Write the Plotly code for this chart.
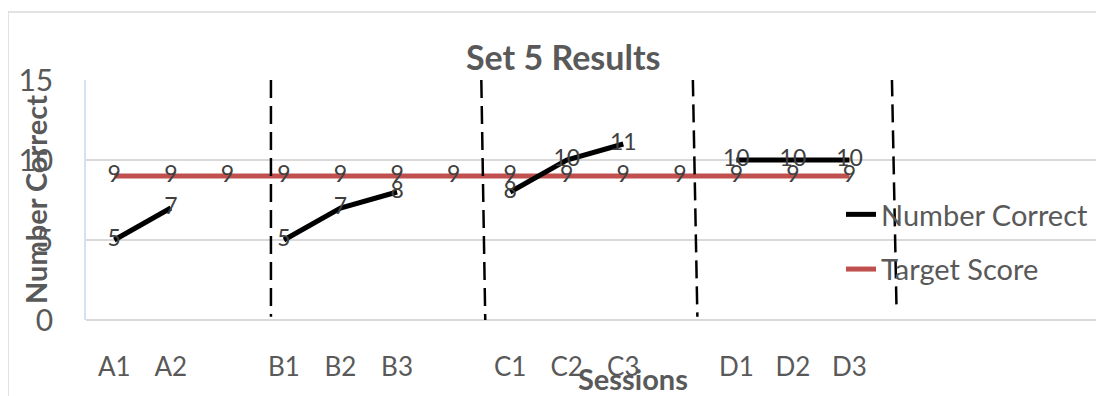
import plotly.graph_objects as go

# ---- data ----
categories = ["A1", "A2", "", "B1", "B2", "B3", "", "C1", "C2", "C3", "", "D1", "D2", "D3", "", "", "", ""]
number_correct = [5, 7, None, 5, 7, 8, None, 8, 10, 11, None, 10, 10, 10]
target_score = [9, 9, 9, 9, 9, 9, 9, 9, 9, 9, 9, 9, 9, 9]
# phase divider positions (category index at top, at bottom) and y extent
divider_top_x = [2.77, 6.49, 10.23, 13.75]
divider_bot_x = [2.77, 6.56, 10.31, 13.83]
divider_top_y = [15.0, 15.0, 15.1, 15.1]
divider_bot_y = [0.2, -0.1, 0.2, 0.95]
y_ticks = [0, 5, 10, 15]

FONT = "Lato"
GREY = "#595959"
LABEL = "#404040"

x_nc = list(range(len(number_correct)))
x_ts = list(range(len(target_score)))

fig = go.Figure()
fig.add_trace(go.Scatter(
    x=x_ts, y=target_score, name="Target Score", legendgroup="t", legendrank=2,
    mode="lines+text", line=dict(color="#C0504D", width=5),
    text=[str(v) for v in target_score], textposition="middle center",
    textfont=dict(family=FONT, size=23, color=LABEL),
))
fig.add_trace(go.Scatter(
    x=x_nc, y=number_correct, name="Number Correct", legendgroup="n", legendrank=1,
    mode="lines+text", line=dict(color="#000000", width=5), connectgaps=False,
    text=["" if v is None else str(v) for v in number_correct], textposition="middle center",
    textfont=dict(family=FONT, size=23, color=LABEL),
))

shapes = []
for x0, x1, y0, y1 in zip(divider_top_x, divider_bot_x, divider_top_y, divider_bot_y):
    shapes.append(dict(type="line", xref="x", yref="y", x0=x0, y0=y0, x1=x1, y1=y1,
                       line=dict(color="black", width=2.5, dash="18px,8px"), layer="above"))
# outer chart frame
shapes.append(dict(type="rect", xref="paper", yref="paper",
                   x0=(8 - 86) / 1018, x1=1.02, y0=-0.4, y1=(320 - 12) / 240,
                   line=dict(color="#D9D9D9", width=1.5), layer="below"))

# page body has an 8px margin: plot area at screen x 86..1104, y 80..320
fig.update_layout(
    width=1104, height=396,
    margin=dict(l=78, r=8, t=72, b=84, autoexpand=False),
    paper_bgcolor="white", plot_bgcolor="white",
    font=dict(family=FONT, color=GREY),
    showlegend=True,
    legend=dict(x=(841 - 86) / 1018, y=(320 - 189) / 240, xanchor="left", yanchor="top",
                bgcolor="rgba(0,0,0,0)", font=dict(family=FONT, size=29, color=GREY),
                traceorder="grouped", tracegroupgap=14, itemwidth=30),
    shapes=shapes,
    annotations=[
        dict(text="<b>Set 5 Results</b>", xref="paper", yref="paper",
             x=(563 - 86) / 1018, y=(320 - 57) / 240, xanchor="center", yanchor="middle",
             showarrow=False, font=dict(family=FONT, size=34, color=GREY)),
        dict(text="<b>Number Correct</b>", xref="paper", yref="paper", textangle=-90,
             x=(35 - 86) / 1018, y=0.5, xanchor="center", yanchor="middle",
             showarrow=False, font=dict(family=FONT, size=29, color=GREY)),
        dict(text="<b>Sessions</b>", xref="paper", yref="paper",
             x=(633 - 86) / 1018, y=(320 - 378) / 240, xanchor="center", yanchor="middle",
             showarrow=False, font=dict(family=FONT, size=29, color=GREY)),
    ],
)
fig.update_xaxes(
    range=[-0.5, len(categories) - 0.5],
    tickmode="array", tickvals=list(range(len(categories))), ticktext=categories,
    tickfont=dict(family=FONT, size=26, color=GREY),
    showgrid=False, zeroline=False, showline=False, ticks="",
    ticklabelstandoff=29,
)
fig.update_yaxes(
    range=[0, 15], tickmode="array", tickvals=y_ticks,
    tickfont=dict(family=FONT, size=30, color=GREY),
    showgrid=True, gridcolor="#D9D9D9", gridwidth=1.5,
    zeroline=True, zerolinecolor="#D9D9D9", zerolinewidth=1.5,
    showline=True, linecolor="#D5E2F2", linewidth=1.5,
    ticks="", ticklabelstandoff=25,
)

fig.write_html("out.html")
